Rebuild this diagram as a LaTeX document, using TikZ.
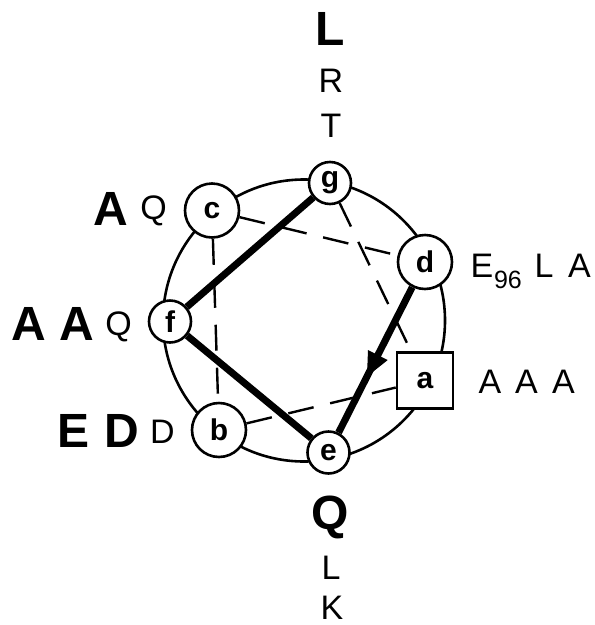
\documentclass[tikz,border=0pt]{standalone}
\usepackage{fontspec}
\setmainfont{Liberation Sans}
\usetikzlibrary{arrows.meta,decorations.markings}
\begin{document}
\begin{tikzpicture}[x=1pt,y=-1pt,
  res/.style={circle,draw,line width=2.6pt,fill=white,inner sep=0pt,font=\fontsize{30}{30}\selectfont\bfseries},
  bigres/.style={res,minimum size=54pt},
  smallres/.style={res,minimum size=42pt},
  boxres/.style={draw,line width=2.6pt,fill=white,minimum size=56pt,inner sep=0pt,font=\fontsize{30}{30}\selectfont\bfseries},
  wheel/.style={circle,draw,line width=2.6pt,minimum size=282pt,inner sep=0pt},
  back/.style={line width=2.4pt,dash pattern=on 26pt off 17pt},
  front/.style={line width=7pt},
  arrowmid/.style={postaction={decorate},decoration={markings,mark=at position 0.62 with {\arrow{Triangle[length=25pt,width=20pt]}}}},
  boldres/.style={inner sep=0pt,anchor=base,font=\fontsize{48}{48}\selectfont\bfseries},
  plainres/.style={inner sep=0pt,anchor=base,text depth=0pt,font=\fontsize{34}{34}\selectfont},
  subres/.style={inner sep=0pt,anchor=base,font=\fontsize{25}{25}\selectfont},
]
\useasboundingbox (0,0) rectangle (595,625);
% helical wheel circle
\node[wheel] (wheel) at (304,320.5) {};
% residue positions
\node[smallres] (g) at (330,183) {g};
\node[bigres] (c) at (212,210.5) {c};
\node[bigres] (d) at (425,262) {d};
\node[smallres] (f) at (170,321.5) {f};
\node[boxres] (a) at (425,380.5) {a};
\node[bigres] (b) at (219,430) {b};
\node[smallres] (e) at (328.5,452.5) {e};
% connectors
\draw[back] (c) -- (b);
\draw[back] (b) -- (a);
\draw[back] (c) -- (d);
\draw[back] (g) -- (a);
\draw[front] (g) -- (f);
\draw[front] (f) -- (e);
\draw[front,arrowmid] (d) -- (e);
% labels: g
\node[boldres] (gL) at (330,45) {L};
\node[plainres] (gR) at (331,92) {R};
\node[plainres] (gT) at (331,137) {T};
% labels: e
\node[boldres] (eQ) at (330,529) {Q};
\node[plainres] (eL) at (331,579) {L};
\node[plainres] (eK) at (332,619) {K};
% labels: c
\node[boldres] (cA) at (111,225) {A};
\node[plainres] (cQ) at (153.5,219) {Q};
% labels: f
\node[boldres] (fA1) at (28.5,340) {A};
\node[boldres] (fA2) at (76.5,340) {A};
\node[plainres] (fQ) at (118.5,335) {Q};
% labels: b
\node[boldres] (bE) at (74,447) {E};
\node[boldres] (bD1) at (122,447) {D};
\node[plainres] (bD2) at (162.5,443) {D};
% labels: d
\node[plainres] (dE) at (482,277) {E};
\node[subres] (d96) at (508,288) {96};
\node[plainres] (dL) at (544,277) {L};
\node[plainres] (dA) at (579.5,277) {A};
% labels: a
\node[plainres] (aA1) at (490,393) {A};
\node[plainres] (aA2) at (526.5,393) {A};
\node[plainres] (aA3) at (563.5,393) {A};
\end{tikzpicture}
\end{document}
